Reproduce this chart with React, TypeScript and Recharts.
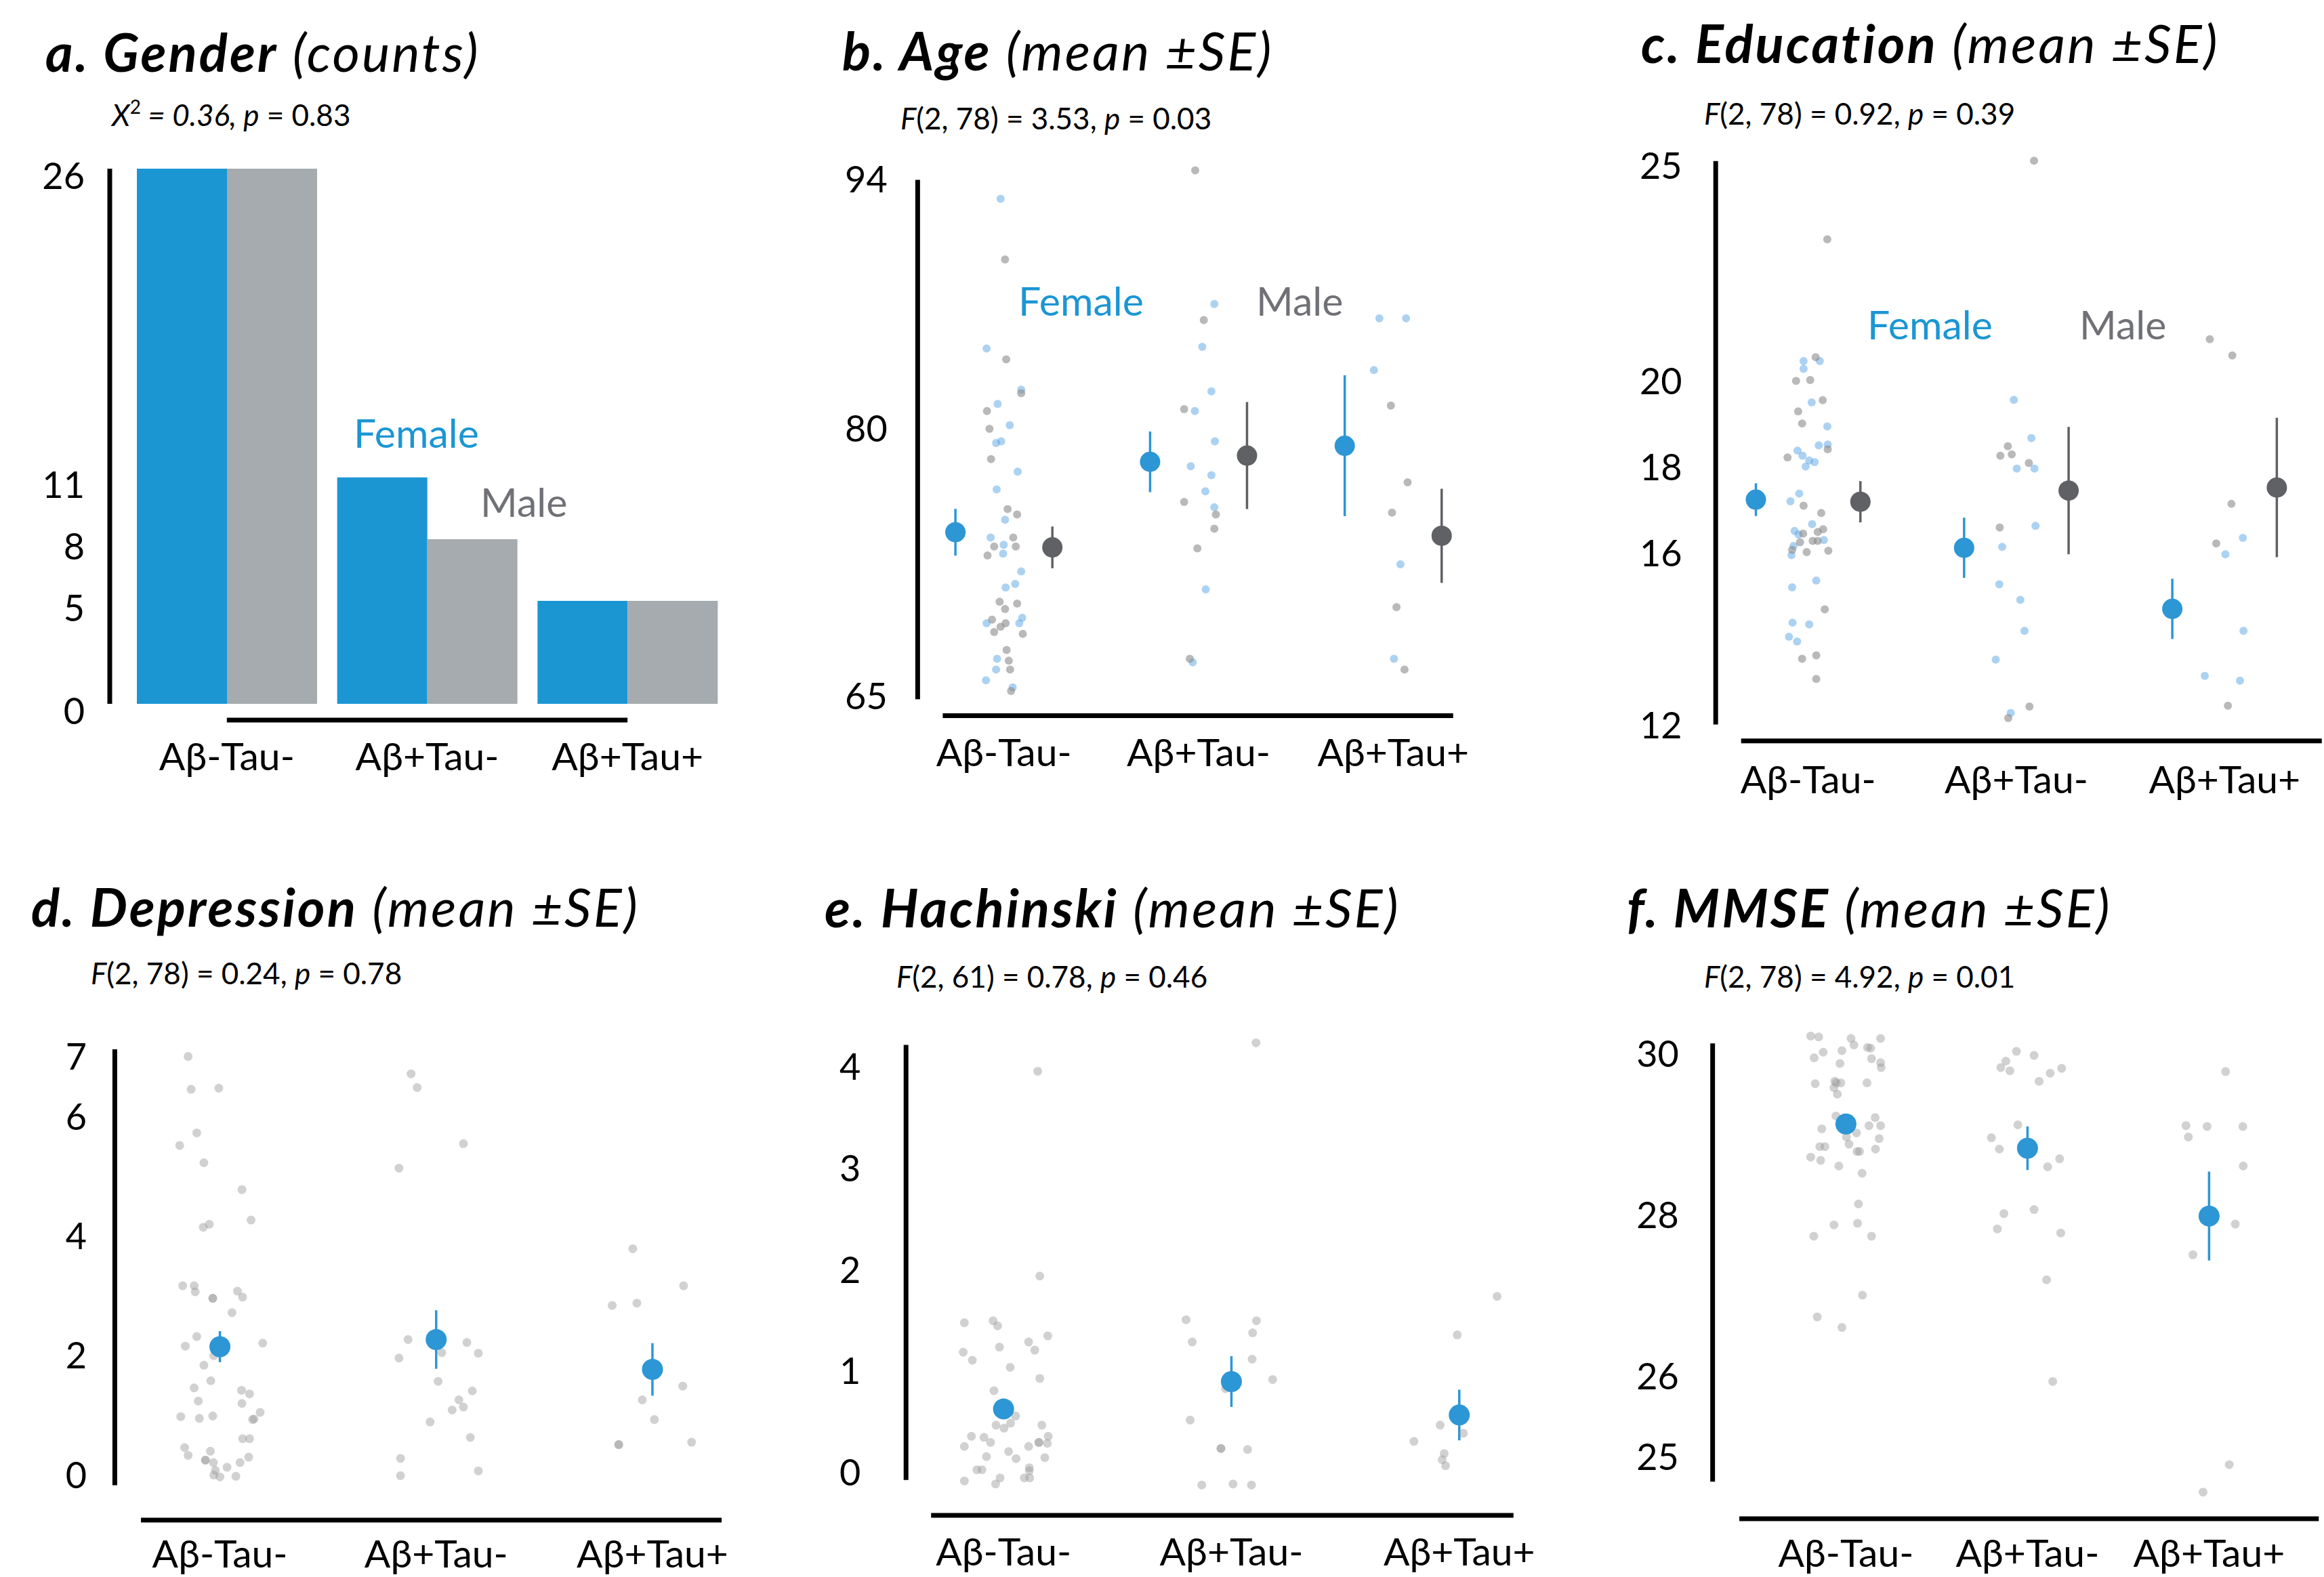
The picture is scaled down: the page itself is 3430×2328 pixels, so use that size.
import React from 'react';
import { BarChart, Bar, ScatterChart, Scatter, XAxis, YAxis, ErrorBar, ReferenceLine } from 'recharts';

const FONT = 'Lato, "Open Sans", "Noto Sans", sans-serif';
const BLUE = '#1b96d3';
const BAR_GREY = '#a5abae';
const MALE_TEXT = '#707176';
const MEAN_BLUE = '#2d96d5';
const MEAN_GREY = '#606165';
const DOT_BLUE = '#5aa5e6';
const DOT_GREY = '#8a8a8a';

const groups = ['Aβ-Tau-', 'Aβ+Tau-', 'Aβ+Tau+'];

// [group, jitter, value]
type Pt = [number, number, number];

// a. Gender counts
const genderFemale = [26, 11, 5];
const genderMale = [26, 8, 5];
const genderTicks = [0, 5, 8, 11, 26];

// b. Age
const ageTicks = [65, 80, 94];
const ageFemaleMean = [74.2, 78.15, 79.05];
const ageFemaleSE = [1.31, 1.7, 3.95];
const ageMaleMean = [73.35, 78.5, 74.0];
const ageMaleSE = [1.17, 3.0, 2.64];
const ageFemalePts: Pt[] = [
  [1, -0.017, 92.9], [1, -0.089, 84.5], [1, 0.089, 82.2], [1, -0.032, 81.4], [1, 0.03, 80.2], [1, -0.04, 79.2],
  [1, -0.014, 79.3], [1, 0.071, 77.6], [1, -0.037, 76.6], [1, 0.006, 74.9], [1, -0.068, 73.9], [1, -0.001, 73.5],
  [1, -0.004, 73.0], [1, 0.089, 72.0], [1, 0.058, 71.3], [1, 0.009, 71.1], [1, 0.094, 69.4], [1, -0.089, 69.1],
  [1, 0.079, 69.1], [1, -0.035, 67.1], [1, -0.04, 66.5], [1, -0.092, 65.9], [1, 0.045, 65.5],
  [2, 0.081, 87.0], [2, 0.019, 84.6], [2, 0.066, 82.1], [2, -0.019, 81.0], [2, 0.084, 79.3], [2, -0.04, 77.9],
  [2, 0.066, 77.4], [2, 0.035, 76.5], [2, 0.081, 75.6], [2, 0.037, 71.0], [2, -0.03, 66.9],
  [3, -0.071, 86.2], [3, 0.066, 86.2], [3, -0.099, 83.3], [3, 0.037, 72.4], [3, 0.004, 67.1],
];
const ageMalePts: Pt[] = [
  [1, 0.006, 89.5], [1, 0.012, 83.9], [1, 0.089, 82.0], [1, -0.087, 81.0], [1, -0.074, 80.0], [1, -0.066, 78.3],
  [1, 0.019, 75.5], [1, 0.068, 75.2], [1, 0.048, 73.9], [1, -0.05, 73.4], [1, 0.061, 73.4], [1, -0.084, 72.9],
  [1, -0.022, 70.3], [1, 0.068, 70.2], [1, 0.006, 69.9], [1, -0.061, 69.3], [1, 0.009, 69.1], [1, -0.017, 68.9],
  [1, -0.05, 68.6], [1, 0.097, 68.5], [1, 0.014, 67.6], [1, 0.025, 67.0], [1, 0.032, 66.5], [1, 0.037, 65.3],
  [2, -0.017, 94.5], [2, 0.027, 86.1], [2, -0.074, 81.1], [2, -0.074, 75.9], [2, 0.089, 75.2], [2, 0.081, 74.4],
  [2, -0.006, 73.3], [2, -0.045, 67.1],
  [3, -0.012, 81.3], [3, 0.074, 77.0], [3, -0.006, 75.3], [3, 0.017, 70.0], [3, 0.058, 66.5],
];

// c. Education
const eduTicks = [12, 16, 18, 20, 25];
const eduFemaleMean = [17.25, 16.13, 14.71];
const eduFemaleSE = [0.38, 0.7, 0.7];
const eduMaleMean = [17.2, 17.46, 17.53];
const eduMaleSE = [0.48, 1.48, 1.62];
const eduFemalePts: Pt[] = [
  [1, -0.022, 20.47], [1, 0.056, 20.47], [1, -0.022, 20.29], [1, 0.017, 19.51], [1, 0.092, 18.95], [1, 0.051, 18.51],
  [1, 0.094, 18.53], [1, -0.051, 18.39], [1, -0.027, 18.27], [1, 0.005, 18.16], [1, 0.031, 18.12], [1, -0.012, 18.02],
  [1, -0.043, 17.39], [1, -0.085, 17.21], [1, 0.019, 16.68], [1, -0.065, 16.52], [1, -0.046, 16.44], [1, 0.075, 16.31],
  [1, -0.07, 16.17], [1, -0.08, 15.96], [1, 0.039, 15.37], [1, -0.077, 15.21], [1, -0.075, 14.39], [1, 0.005, 14.35],
  [1, -0.092, 14.06], [1, -0.053, 13.95],
  [2, -0.012, 19.57], [2, 0.072, 18.68], [2, 0.002, 17.97], [2, 0.087, 17.97], [2, 0.092, 16.64], [2, -0.068, 16.15],
  [2, -0.082, 15.28], [2, 0.019, 14.92], [2, 0.039, 14.2], [2, -0.099, 13.53], [2, -0.027, 12.29],
  [3, 0.088, 16.36], [3, 0.004, 15.98], [3, 0.091, 14.2], [3, -0.095, 13.15], [3, 0.074, 13.04],
];
const eduMalePts: Pt[] = [
  [1, 0.092, 23.3], [1, 0.036, 20.56], [1, -0.058, 20.01], [1, 0.01, 20.03], [1, 0.07, 19.56], [1, -0.048, 19.3],
  [1, -0.029, 19.02], [1, 0.094, 18.42], [1, -0.099, 18.23], [1, -0.022, 17.11], [1, 0.063, 16.94], [1, -0.024, 16.46],
  [1, 0.072, 16.56], [1, 0.046, 16.5], [1, 0.022, 16.29], [1, -0.039, 16.26], [1, 0.046, 16.29], [1, -0.077, 16.08],
  [1, 0.097, 16.06], [1, -0.007, 16.03], [1, 0.08, 14.7], [1, 0.039, 13.63], [1, -0.029, 13.55], [1, 0.039, 13.08],
  [2, 0.085, 25.13], [2, -0.041, 18.49], [2, -0.077, 18.27], [2, -0.022, 18.3], [2, 0.06, 18.1], [2, -0.08, 16.6],
  [2, 0.063, 12.44], [2, -0.039, 12.17],
  [3, -0.071, 20.98], [3, 0.037, 20.6], [3, 0.033, 17.15], [3, -0.04, 16.23], [3, 0.016, 12.46],
];

// d. Depression
const depTicks = [0, 2, 4, 6, 7];
const depMean = [2.15, 2.27, 1.77];
const depSE = [0.26, 0.49, 0.44];
const depPts: Pt[] = [
  [1, -0.147, 7.01], [1, -0.133, 6.46], [1, -0.005, 6.48], [1, -0.107, 5.73], [1, -0.186, 5.52], [1, -0.074, 5.23],
  [1, 0.102, 4.78], [1, 0.144, 4.27], [1, -0.077, 4.15], [1, -0.049, 4.2], [1, -0.172, 3.17], [1, -0.119, 3.17],
  [1, -0.114, 3.07], [1, -0.033, 2.96], [1, -0.033, 2.96], [1, 0.081, 3.08], [1, 0.105, 2.98], [1, 0.056, 2.72],
  [1, -0.107, 2.32], [1, -0.16, 2.16], [1, 0.198, 2.21], [1, -0.028, 2.0], [1, -0.074, 1.84], [1, -0.042, 1.58],
  [1, -0.119, 1.46], [1, 0.1, 1.42], [1, 0.137, 1.36], [1, -0.1, 1.24], [1, 0.102, 1.2], [1, -0.181, 0.98],
  [1, -0.095, 0.95], [1, -0.033, 0.99], [1, 0.158, 0.94], [1, 0.151, 0.93], [1, 0.186, 1.05], [1, 0.105, 0.61],
  [1, 0.137, 0.61], [1, -0.163, 0.46], [1, -0.147, 0.33], [1, -0.044, 0.4], [1, -0.067, 0.25], [1, -0.067, 0.25],
  [1, 0.133, 0.3], [1, -0.03, 0.21], [1, 0.093, 0.21], [1, 0.033, 0.13], [1, -0.021, 0.08], [1, -0.028, 0.0],
  [1, 0.0, -0.03], [1, 0.074, -0.02],
  [2, -0.116, 6.72], [2, -0.088, 6.49], [2, 0.126, 5.55], [2, -0.172, 5.14], [2, -0.13, 2.27], [2, 0.142, 2.22],
  [2, -0.172, 1.96], [2, 0.026, 2.05], [2, 0.195, 2.04], [2, 0.009, 1.57], [2, 0.167, 1.41], [2, 0.105, 1.26],
  [2, 0.074, 1.09], [2, 0.126, 1.14], [2, -0.028, 0.89], [2, 0.158, 0.63], [2, -0.165, 0.28], [2, -0.165, -0.01],
  [2, 0.195, 0.07],
  [3, -0.091, 3.79], [3, 0.144, 3.17], [3, -0.186, 2.84], [3, -0.072, 2.88], [3, 0.14, 1.49], [3, -0.047, 1.26],
  [3, 0.009, 0.93], [3, -0.156, 0.51], [3, -0.156, 0.51], [3, 0.181, 0.55],
];

// e. Hachinski
const hachTicks = [0, 1, 2, 3, 4];
const hachMean = [0.63, 0.9, 0.57];
const hachSE = [0.1, 0.25, 0.25];
const hachPts: Pt[] = [
  [1, 0.15, 3.96], [1, 0.159, 1.94], [1, -0.172, 1.48], [1, -0.046, 1.5], [1, -0.026, 1.45], [1, 0.194, 1.35],
  [1, 0.11, 1.29], [1, -0.018, 1.24], [1, -0.177, 1.19], [1, 0.137, 1.21], [1, -0.137, 1.11], [1, 0.029, 1.04],
  [1, 0.159, 0.93], [1, -0.042, 0.81], [1, 0.053, 0.56], [1, 0.031, 0.49], [1, -0.033, 0.47], [1, 0.002, 0.44],
  [1, 0.168, 0.47], [1, -0.141, 0.36], [1, -0.086, 0.35], [1, 0.196, 0.36], [1, -0.172, 0.26], [1, -0.057, 0.3],
  [1, 0.11, 0.26], [1, 0.155, 0.3], [1, 0.155, 0.3], [1, 0.192, 0.29], [1, 0.022, 0.21], [1, -0.075, 0.16],
  [1, 0.055, 0.14], [1, 0.181, 0.15], [1, -0.117, 0.03], [1, -0.095, 0.03], [1, 0.113, 0.05], [1, 0.113, 0.02],
  [1, -0.172, -0.08], [1, -0.035, -0.11], [1, -0.015, -0.05], [1, 0.091, -0.05], [1, 0.115, -0.05],
  [2, 0.108, 4.24], [2, -0.199, 1.51], [2, 0.11, 1.5], [2, 0.093, 1.38], [2, -0.172, 1.29], [2, 0.091, 1.12],
  [2, 0.181, 0.92], [2, -0.026, 0.83], [2, -0.181, 0.52], [2, -0.046, 0.24], [2, -0.046, 0.24], [2, 0.071, 0.23],
  [2, -0.13, -0.12], [2, 0.007, -0.11], [2, 0.088, -0.12],
  [3, 0.166, 1.74], [3, -0.009, 1.36], [3, -0.084, 0.47], [3, 0.018, 0.39], [3, -0.199, 0.31], [3, -0.066, 0.19],
  [3, -0.075, 0.13], [3, -0.06, 0.07],
];

// f. MMSE
const mmseTicks = [25, 26, 28, 30];
const mmseMean = [29.13, 28.83, 27.99];
const mmseSE = [0.11, 0.27, 0.55];
const mmsePts: Pt[] = [
  [1, -0.194, 30.22], [1, -0.15, 30.21], [1, 0.028, 30.19], [1, 0.191, 30.19], [1, 0.044, 30.11], [1, -0.125, 30.02],
  [1, -0.022, 30.04], [1, 0.119, 30.08], [1, 0.136, 30.07], [1, -0.175, 29.95], [1, 0.141, 29.94], [1, 0.191, 29.89],
  [1, 0.194, 29.83], [1, -0.033, 29.88], [1, -0.169, 29.63], [1, -0.061, 29.66], [1, -0.053, 29.64], [1, -0.028, 29.64],
  [1, -0.066, 29.58], [1, 0.116, 29.64], [1, -0.047, 29.5], [1, -0.055, 29.23], [1, 0.161, 29.21], [1, 0.127, 29.11],
  [1, 0.191, 29.11], [1, -0.133, 29.07], [1, 0.058, 29.02], [1, 0.003, 28.97], [1, 0.183, 28.95], [1, -0.144, 28.85],
  [1, -0.116, 28.85], [1, 0.017, 28.88], [1, 0.163, 28.82], [1, 0.061, 28.79], [1, 0.075, 28.79], [1, -0.194, 28.72],
  [1, -0.139, 28.68], [1, -0.039, 28.61], [1, 0.089, 28.52], [1, 0.069, 28.14], [1, -0.066, 27.88], [1, 0.064, 27.9],
  [1, -0.177, 27.74], [1, 0.141, 27.74], [1, 0.091, 27.01], [1, -0.158, 26.74], [1, -0.022, 26.61],
  [2, -0.061, 30.03], [2, 0.036, 29.98], [2, -0.119, 29.91], [2, -0.147, 29.83], [2, -0.097, 29.79], [2, 0.188, 29.82],
  [2, 0.125, 29.76], [2, 0.064, 29.66], [2, -0.053, 29.12], [2, -0.199, 28.96], [2, -0.155, 28.82], [2, 0.177, 28.7],
  [2, 0.111, 28.6], [2, -0.13, 28.02], [2, 0.036, 28.07], [2, -0.166, 27.83], [2, 0.183, 27.78], [2, 0.105, 27.2],
  [2, 0.139, 25.94],
  [3, 0.091, 29.78], [3, -0.127, 29.11], [3, -0.011, 29.1], [3, 0.186, 29.1], [3, -0.114, 28.97], [3, 0.188, 28.61],
  [3, 0.144, 27.89], [3, -0.089, 27.51], [3, 0.111, 24.91], [3, -0.033, 24.57],
];

// page geometry of each strip plot: group 1 sits at cx1, one group = pitch px,
// value v0 sits at page y0 and one unit = unit px
type Frame = {
  cx1: number; pitch: number; v0: number; y0: number; unit: number;
  xd: [number, number]; yd: [number, number];
  yLine: [number, number, number]; // x, from, to
  xLine: [number, number, number]; // y, from, to
  labelRight: number; xLabelDy: number;
};

type Cloud = { pts: Pt[]; fill: string; opacity: number; r: number };
type Means = { mean: number[]; se: number[]; shift: number; fill: string; r: number };

const ageFrame: Frame = { cx1: 1481.9, pitch: 287.3, v0: 94, y0: 264.3, unit: 26.32, xd: [0.5, 3.4], yd: [63.91, 95.2], yLine: [0.557, 64.83, 93.97], xLine: [63.91, 0.686, 3.308], labelRight: 1310, xLabelDy: 74 };
const eduFrame: Frame = { cx1: 2669, pitch: 307.3, v0: 25, y0: 245, unit: 63.5, xd: [0.5, 3.47], yd: [11.64, 25.4], yLine: [0.556, 12.02, 25.12], xLine: [11.64, 0.678, 3.467], labelRight: 2483, xLabelDy: 77 };
const depFrame: Frame = { cx1: 324.4, pitch: 319.2, v0: 0, y0: 2177.4, unit: 88.16, xd: [0.45, 3.4], yd: [-0.755, 7.3], yLine: [0.514, -0.17, 7.13], xLine: [-0.755, 0.635, 3.32], labelRight: 128, xLabelDy: 70 };
const hachFrame: Frame = { cx1: 1481.5, pitch: 336.3, v0: 0, y0: 2174.4, unit: 149.7, xd: [0.5, 3.4], yd: [-0.42, 4.35], yLine: [0.572, -0.07, 4.22], xLine: [-0.42, 0.682, 3.238], labelRight: 1270.7, xLabelDy: 74 };
const mmseFrame: Frame = { cx1: 2724, pitch: 268, v0: 30, y0: 1556, unit: 119.15, xd: [0.2, 3.63], yd: [24.24, 30.4], yLine: [0.266, 24.7, 30.13], xLine: [24.24, 0.413, 3.604], labelRight: 2477.5, xLabelDy: 71 };

const TICK_SIZE = 54;
const CAT_SIZE = 57;

function StripPanel({ f, yTicks, clouds, means }: { f: Frame; yTicks: number[]; clouds: Cloud[]; means: Means[] }) {
  const plotL = f.cx1 + (f.xd[0] - 1) * f.pitch;
  const plotR = f.cx1 + (f.xd[1] - 1) * f.pitch;
  const plotT = f.y0 - (f.yd[1] - f.v0) * f.unit;
  const plotB = f.y0 - (f.yd[0] - f.v0) * f.unit;
  const yAxisW = 220;
  const xAxisH = 110;
  const pad = 30;
  const left = plotL - yAxisW;
  const top = plotT - pad;
  const width = plotR - left + 10;
  const height = plotB + xAxisH - top;
  const gap = plotL - f.labelRight;

  return (
    <div style={{ position: 'absolute', left, top }}>
      <ScatterChart width={width} height={height} margin={{ top: pad, right: 10, bottom: 0, left: 0 }}>
        <XAxis
          type="number" dataKey="x" domain={f.xd} allowDataOverflow ticks={[1, 2, 3]} interval={0}
          axisLine={false} tickLine={false} tickSize={0} tickMargin={0} height={xAxisH}
          tick={(p: any) => (
            <text x={p.x} y={p.y + f.xLabelDy} textAnchor="middle" fontSize={CAT_SIZE} fontFamily={FONT} fill="#000">
              {groups[Math.round(p.payload.value) - 1]}
            </text>
          )}
        />
        <YAxis
          type="number" dataKey="y" domain={f.yd} allowDataOverflow ticks={yTicks} interval={0}
          axisLine={false} tickLine={false} tickSize={0} tickMargin={0} width={yAxisW}
          tick={(p: any) => (
            <text x={p.x - gap} y={p.y + 19} textAnchor="end" fontSize={TICK_SIZE} fontFamily={FONT} fill="#000">
              {p.payload.value}
            </text>
          )}
        />
        <ReferenceLine
          segment={[{ x: f.yLine[0], y: f.yLine[1] }, { x: f.yLine[0], y: f.yLine[2] }]}
          stroke="#000" strokeWidth={7} ifOverflow="visible"
        />
        <ReferenceLine
          segment={[{ x: f.xLine[1], y: f.xLine[0] }, { x: f.xLine[2], y: f.xLine[0] }]}
          stroke="#000" strokeWidth={7} ifOverflow="visible"
        />
        {clouds.map((c, i) => (
          <Scatter
            key={'c' + i}
            data={c.pts.map(([g, dx, v]) => ({ x: g + dx, y: v }))}
            isAnimationActive={false}
            shape={(p: any) => <circle cx={p.cx} cy={p.cy} r={c.r} fill={c.fill} fillOpacity={c.opacity} />}
          />
        ))}
        {means.map((m, i) => (
          <Scatter
            key={'m' + i}
            data={m.mean.map((v, g) => ({ x: g + 1 + m.shift, y: v, se: m.se[g] }))}
            isAnimationActive={false}
            shape={(p: any) => <circle cx={p.cx} cy={p.cy} r={m.r} fill={m.fill} />}
          >
            <ErrorBar dataKey="se" direction="y" width={0} stroke={m.fill} strokeWidth={3.5} isAnimationActive={false} />
          </Scatter>
        ))}
      </ScatterChart>
    </div>
  );
}

function GenderPanel() {
  const data = groups.map((g, i) => ({ group: g, female: genderFemale[i], male: genderMale[i] }));
  return (
    <div style={{ position: 'absolute', left: 0, top: 199 }}>
      <BarChart width={1084} height={950} data={data} margin={{ top: 50, right: 10, bottom: 0, left: 0 }} barCategoryGap={15} barGap={0}>
        <XAxis
          dataKey="group" padding={{ left: 25, right: 0 }} axisLine={false} tickLine={false}
          tickSize={0} tickMargin={0} height={110} interval={0}
          tick={(p: any) => (
            <text x={p.x} y={p.y + 98} textAnchor="middle" fontSize={CAT_SIZE} fontFamily={FONT} fill="#000">
              {p.payload.value}
            </text>
          )}
        />
        <YAxis
          domain={[0, 26]} ticks={genderTicks} interval={0} allowDataOverflow
          axisLine={{ stroke: '#000', strokeWidth: 7 }} tickLine={false} tickSize={0} tickMargin={0} width={162}
          tick={(p: any) => (
            <text x={p.x - 37} y={p.y + 30} textAnchor="end" fontSize={TICK_SIZE} fontFamily={FONT} fill="#000">
              {p.payload.value}
            </text>
          )}
        />
        <Bar dataKey="female" fill={BLUE} isAnimationActive={false} />
        <Bar dataKey="male" fill={BAR_GREY} isAnimationActive={false} />
        <ReferenceLine
          segment={[{ x: groups[0], y: -0.79 }, { x: groups[2], y: -0.79 }]}
          stroke="#000" strokeWidth={7} ifOverflow="visible"
        />
      </BarChart>
    </div>
  );
}

function Title({ x, y, bold, rest }: { x: number; y: number; bold: string; rest: string }) {
  return (
    <text x={x} y={y} fontSize={78} fontStyle="italic" letterSpacing={3} fill="#000">
      <tspan fontWeight={700}>{bold}</tspan>
      <tspan>{rest}</tspan>
    </text>
  );
}

function FStat({ x, y, df, f, p }: { x: number; y: number; df: string; f: string; p: string }) {
  return (
    <text x={x} y={y} fontSize={44} fill="#000">
      <tspan fontStyle="italic">F</tspan>
      <tspan>{`(${df}) = ${f}, `}</tspan>
      <tspan fontStyle="italic">p</tspan>
      <tspan>{` = ${p}`}</tspan>
    </text>
  );
}

function Annotations() {
  return (
    <svg width={3430} height={2328} style={{ position: 'absolute', left: 0, top: 0 }} fontFamily={FONT}>
      <Title x={67} y={106} bold="a. Gender" rest=" (counts)" />
      <Title x={1243} y={104} bold="b. Age" rest=" (mean ±SE)" />
      <Title x={2422} y={93} bold="c. Education" rest=" (mean ±SE)" />
      <Title x={46} y={1368} bold="d. Depression" rest=" (mean ±SE)" />
      <Title x={1217} y={1369} bold="e. Hachinski" rest=" (mean ±SE)" />
      <Title x={2401} y={1369} bold="f. MMSE" rest=" (mean ±SE)" />

      <text x={165} y={186} fontSize={44} fill="#000">
        <tspan fontStyle="italic">X</tspan>
        <tspan fontSize={28} dy={-18}>2</tspan>
        <tspan fontStyle="italic" dy={18}> = 0.36, p</tspan>
        <tspan> = 0.83</tspan>
      </text>
      <FStat x={1329} y={191} df="2, 78" f="3.53" p="0.03" />
      <FStat x={2515} y={184} df="2, 78" f="0.92" p="0.39" />
      <FStat x={134} y={1453} df="2, 78" f="0.24" p="0.78" />
      <FStat x={1323} y={1458} df="2, 61" f="0.78" p="0.46" />
      <FStat x={2515} y={1458} df="2, 78" f="4.92" p="0.01" />

      <text x={522} y={661} fontSize={59} fill={BLUE}>Female</text>
      <text x={709} y={763} fontSize={59} fill={MALE_TEXT}>Male</text>
      <text x={1503} y={466} fontSize={59} fill={BLUE}>Female</text>
      <text x={1854} y={466} fontSize={59} fill={MALE_TEXT}>Male</text>
      <text x={2756} y={501} fontSize={59} fill={BLUE}>Female</text>
      <text x={3069} y={501} fontSize={59} fill={MALE_TEXT}>Male</text>
    </svg>
  );
}

export default function App() {
  const sexClouds = (female: Pt[], male: Pt[]): Cloud[] => [
    { pts: female, fill: DOT_BLUE, opacity: 0.5, r: 6 },
    { pts: male, fill: DOT_GREY, opacity: 0.6, r: 6 },
  ];
  const sexMeans = (fm: number[], fse: number[], mm: number[], mse: number[], shift: number): Means[] => [
    { mean: fm, se: fse, shift: -shift, fill: MEAN_BLUE, r: 15 },
    { mean: mm, se: mse, shift, fill: MEAN_GREY, r: 15 },
  ];
  const greyCloud = (pts: Pt[]): Cloud[] => [{ pts, fill: '#9a9a9a', opacity: 0.45, r: 6.5 }];
  const blueMeans = (mean: number[], se: number[]): Means[] => [{ mean, se, shift: 0, fill: MEAN_BLUE, r: 15.5 }];

  return (
    <div style={{ position: 'absolute', left: 0, top: 0, width: 3430, height: 2328, background: '#fff', overflow: 'hidden', fontFamily: FONT }}>
      <Annotations />
      <GenderPanel />
      <StripPanel f={ageFrame} yTicks={ageTicks} clouds={sexClouds(ageFemalePts, ageMalePts)}
        means={sexMeans(ageFemaleMean, ageFemaleSE, ageMaleMean, ageMaleSE, 0.249)} />
      <StripPanel f={eduFrame} yTicks={eduTicks} clouds={sexClouds(eduFemalePts, eduMalePts)}
        means={sexMeans(eduFemaleMean, eduFemaleSE, eduMaleMean, eduMaleSE, 0.251)} />
      <StripPanel f={depFrame} yTicks={depTicks} clouds={greyCloud(depPts)} means={blueMeans(depMean, depSE)} />
      <StripPanel f={hachFrame} yTicks={hachTicks} clouds={greyCloud(hachPts)} means={blueMeans(hachMean, hachSE)} />
      <StripPanel f={mmseFrame} yTicks={mmseTicks} clouds={greyCloud(mmsePts)} means={blueMeans(mmseMean, mmseSE)} />
    </div>
  );
}
